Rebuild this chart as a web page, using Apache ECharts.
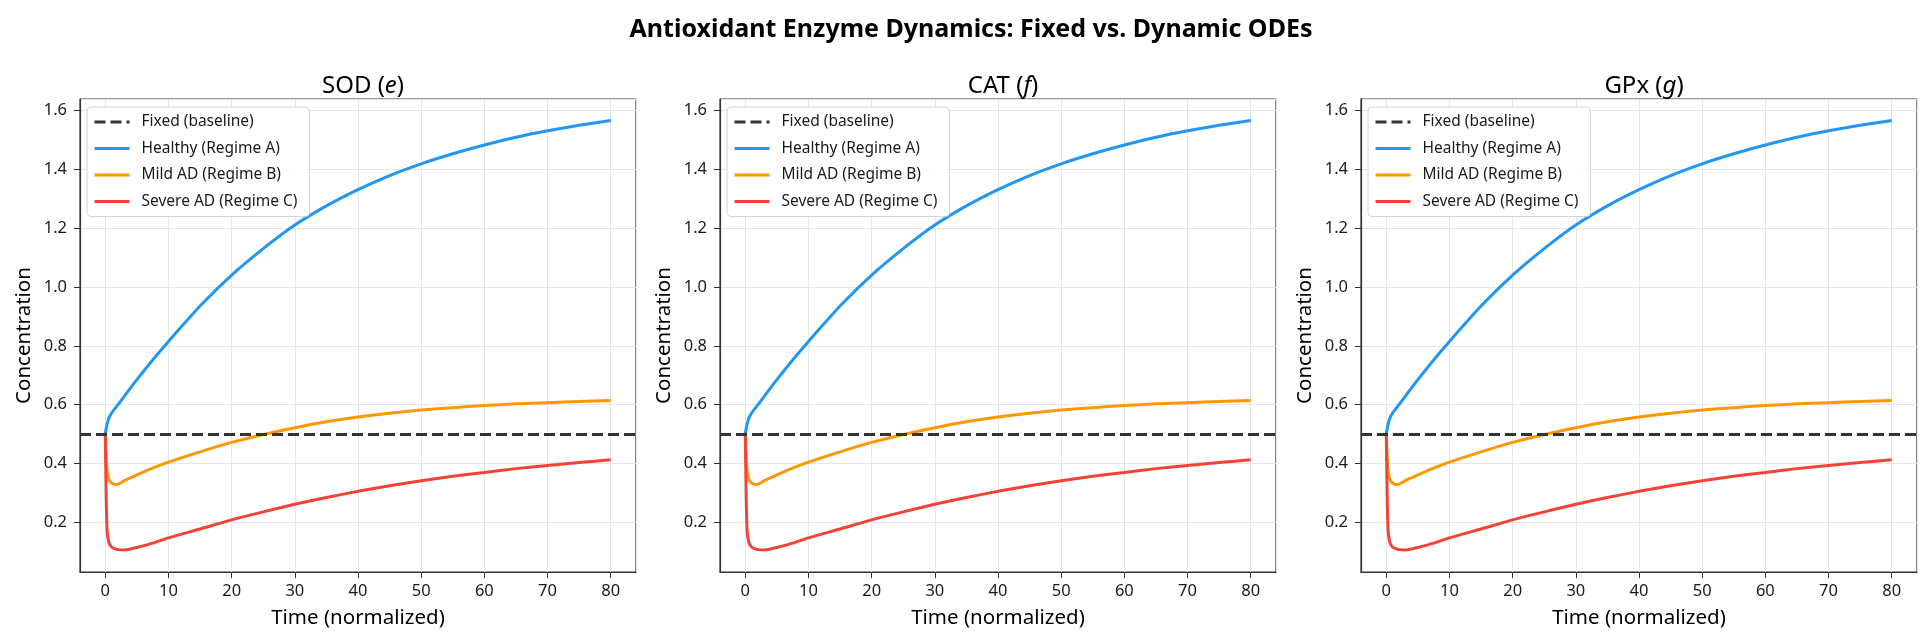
<!DOCTYPE html>
<html lang="en">
<head>
    <meta charset="UTF-8"/>
    <title>Antioxidant Enzyme Dynamics</title>
    <script src="https://cdn.jsdelivr.net/npm/echarts@6/dist/echarts.min.js"></script>
    <style>
        html, body { margin: 0; padding: 0; background: #fff; }
    </style>
</head>
<body>

<div id="main" style="width: 1932px; height: 643px;"></div>

<script type="text/javascript">
    // time samples (same in all three panels)
    var timePoints = [0, 0.15, 0.3, 0.6, 1, 1.5, 2, 3, 4, 5, 7.5, 10, 15, 20, 25, 30, 35, 40, 45, 50, 55, 60, 65, 70, 75, 80];
    var healthy = [0.5, 0.52, 0.535, 0.556, 0.572, 0.586, 0.600, 0.628, 0.657, 0.685, 0.752, 0.815, 0.935, 1.04, 1.13, 1.21, 1.275, 1.33, 1.378, 1.418, 1.452, 1.482, 1.508, 1.530, 1.549, 1.565];
    var mildAD = [0.5, 0.42, 0.375, 0.345, 0.334, 0.329, 0.330, 0.342, 0.352, 0.362, 0.385, 0.405, 0.44, 0.472, 0.499, 0.522, 0.542, 0.558, 0.571, 0.582, 0.590, 0.597, 0.603, 0.607, 0.611, 0.614];
    var severeAD = [0.5, 0.28, 0.17, 0.13, 0.117, 0.111, 0.108, 0.107, 0.110, 0.115, 0.130, 0.148, 0.178, 0.209, 0.236, 0.262, 0.285, 0.306, 0.325, 0.342, 0.357, 0.370, 0.383, 0.394, 0.404, 0.413];
    var baseline = 0.5;

    var panelNames = ['SOD', 'CAT', 'GPx'];
    var panelSymbols = ['e', 'f', 'g'];
    var seriesNames = ['Fixed (baseline)', 'Healthy (Regime A)', 'Mild AD (Regime B)', 'Severe AD (Regime C)'];
    var colors = ['#333333', '#2196F3', '#FF9800', '#F44336'];

    var FONT = 'Noto Sans';
    var gridLefts = [80, 720, 1361];
    var gridTop = 99, gridW = 556, gridH = 473;

    function pairs(ys) {
        var out = [];
        for (var i = 0; i < timePoints.length; i++) {
            out.push([timePoints[i], ys[i]]);
        }
        return out;
    }

    var myChart = echarts.init(document.getElementById('main'), null, {renderer: 'canvas'});

    var titles = [{
        text: 'Antioxidant Enzyme Dynamics: Fixed vs. Dynamic ODEs',
        left: 966, top: 25,
        textAlign: 'center', textVerticalAlign: 'middle',
        textStyle: {fontFamily: FONT, fontSize: 25, fontWeight: 'bold', color: '#000'}
    }];
    var grids = [], xAxes = [], yAxes = [], legends = [], series = [];

    for (var p = 0; p < 3; p++) {
        titles.push({
            text: panelNames[p] + ' ({i|' + panelSymbols[p] + '})',
            left: gridLefts[p] + gridW / 2, top: 81,
            textAlign: 'center', textVerticalAlign: 'middle',
            textStyle: {
                fontFamily: FONT, fontSize: 24, fontWeight: 'normal', color: '#000',
                rich: {i: {fontFamily: FONT, fontSize: 24, fontStyle: 'italic', color: '#000'}}
            }
        });

        grids.push({
            left: gridLefts[p], top: gridTop, width: gridW, height: gridH,
            show: true, borderColor: '#333', borderWidth: 1.2, backgroundColor: '#fff'
        });

        xAxes.push({
            gridIndex: p, type: 'value', min: -4, max: 84, splitNumber: 9,
            name: 'Time (normalized)', nameLocation: 'middle', nameGap: 36,
            nameTextStyle: {fontFamily: FONT, fontSize: 20.5, color: '#000'},
            axisLine: {show: true, onZero: false, lineStyle: {color: '#333', width: 1.2}},
            axisTick: {show: true, length: 6, lineStyle: {color: '#333'}},
            axisLabel: {fontFamily: FONT, fontSize: 16.5, color: '#1a1a1a', margin: 11,
                showMinLabel: false, showMaxLabel: false},
            splitLine: {show: true, lineStyle: {color: '#e6e6e6', width: 1}}
        });

        yAxes.push({
            gridIndex: p, type: 'value', min: 0.032, max: 1.638, splitNumber: 8,
            name: 'Concentration', nameLocation: 'middle', nameGap: 45, nameRotate: 90,
            nameTextStyle: {fontFamily: FONT, fontSize: 20.5, color: '#000'},
            axisLine: {show: true, onZero: false, lineStyle: {color: '#333', width: 1.2}},
            axisTick: {show: true, length: 6, lineStyle: {color: '#333'}},
            axisLabel: {fontFamily: FONT, fontSize: 16.5, color: '#1a1a1a', margin: 13,
                showMinLabel: false, showMaxLabel: false,
                formatter: function (v) { return v.toFixed(1); }},
            splitLine: {show: true, lineStyle: {color: '#e6e6e6', width: 1}}
        });

        legends.push({
            orient: 'vertical',
            left: gridLefts[p] + 7, top: gridTop + 8,
            data: seriesNames,
            itemWidth: 35, itemHeight: 14, itemGap: 10.5,
            padding: [7, 12, 7, 6],
            backgroundColor: 'rgba(255,255,255,0.85)',
            borderColor: '#d4d4d4', borderWidth: 1, borderRadius: 4,
            selectedMode: false,
            itemStyle: {opacity: 0},
            lineStyle: {width: 3},
            textStyle: {fontFamily: FONT, fontSize: 15.5, color: '#1a1a1a', padding: [0, 0, 0, 7]}
        });

        // dashed fixed baseline across the whole axis
        series.push({
            name: seriesNames[0], type: 'line', xAxisIndex: p, yAxisIndex: p,
            data: [], symbol: 'none', z: 1,
            lineStyle: {color: colors[0], width: 2.8, type: [11, 5]},
            itemStyle: {color: colors[0]},
            markLine: {
                silent: true, symbol: 'none', label: {show: false},
                lineStyle: {color: colors[0], width: 2.8, type: [11, 5]},
                emphasis: {disabled: true},
                data: [{yAxis: baseline}]
            }
        });

        var curves = [healthy, mildAD, severeAD];
        for (var s = 0; s < curves.length; s++) {
            series.push({
                name: seriesNames[s + 1], type: 'line', xAxisIndex: p, yAxisIndex: p,
                data: pairs(curves[s]), symbol: 'none',
                smooth: 0.2, z: 2 + s,
                lineStyle: {color: colors[s + 1], width: 3},
                itemStyle: {color: colors[s + 1]}
            });
        }
    }

    var option = {
        animation: false,
        backgroundColor: '#fff',
        title: titles,
        grid: grids,
        xAxis: xAxes,
        yAxis: yAxes,
        legend: legends,
        series: series
    };

    myChart.setOption(option);
</script>
</body>
</html>
